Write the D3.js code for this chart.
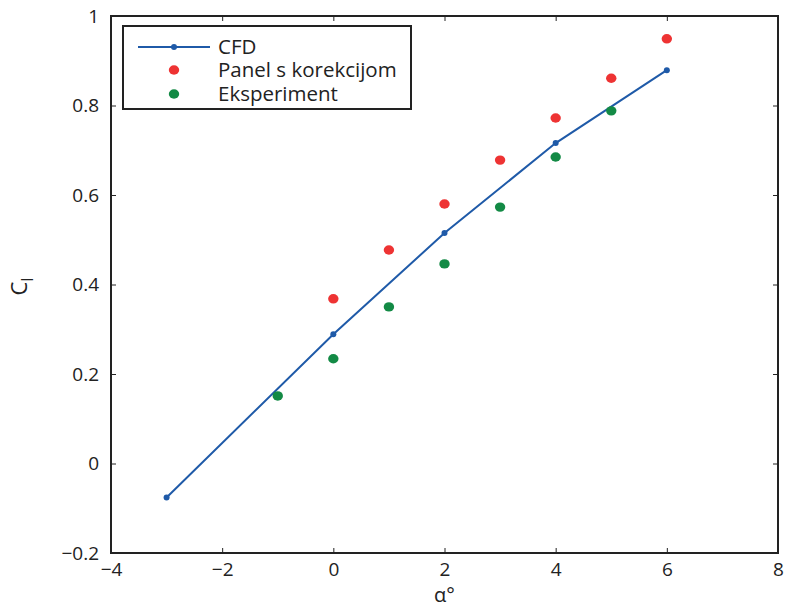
<!DOCTYPE html>
<html lang="hr">
<head>
  <meta charset="UTF-8">
  <title>Cl</title>
  <style>
    body { margin: 0; background: #fff; }
    text { font-family: "Open Sans", "Liberation Sans", sans-serif; fill: #222; }
  </style>
</head>
<body>
  <svg width="785" height="607"></svg>
  <script src="https://cdn.jsdelivr.net/npm/d3@7/dist/d3.min.js"></script>
  <script>
    // data
    var cfdAlpha = [-3, 0, 2, 4, 6]
    var cfdCl = [-0.076, 0.289, 0.515, 0.716, 0.879]
    var panelAlpha = [0, 1, 2, 3, 4, 5, 6]
    var panelCl = [0.368, 0.477, 0.580, 0.678, 0.772, 0.861, 0.949]
    var expAlpha = [-1, 0, 1, 2, 3, 4, 5]
    var expCl = [0.151, 0.234, 0.350, 0.446, 0.573, 0.685, 0.788]
    var xTicks = [-4, -2, 0, 2, 4, 6, 8]
    var yTicks = [-0.2, 0, 0.2, 0.4, 0.6, 0.8, 1]
    var legendLabels = ['CFD', 'Panel s korekcijom', 'Eksperiment']

    var svg = d3.select('svg')
    var pl = 111, pt = 16, pr = 778, pb = 553

    var x = d3.scaleLinear().domain([-4, 8]).range([pl, pr])
    var y = d3.scaleLinear().domain([-0.2, 1]).range([pb, pt])

    var fmt = function(d) {
      return d3.format('')(d).replace('-', '\u2212')
    }

    // axes, ticks inward on all four sides
    svg.append('g')
      .attr('transform', 'translate(0,' + pb + ')')
      .call(d3.axisBottom(x).tickValues(xTicks).tickSizeInner(-5).tickSizeOuter(0).tickPadding(10).tickFormat(fmt))
    svg.append('g')
      .attr('transform', 'translate(0,' + pt + ')')
      .call(d3.axisTop(x).tickValues(xTicks).tickSizeInner(-5).tickSizeOuter(0).tickFormat(''))
    svg.append('g')
      .attr('transform', 'translate(' + pl + ',0)')
      .call(d3.axisLeft(y).tickValues(yTicks).tickSizeInner(-5).tickSizeOuter(0).tickPadding(12).tickFormat(fmt))
    svg.append('g')
      .attr('transform', 'translate(' + pr + ',0)')
      .call(d3.axisRight(y).tickValues(yTicks).tickSizeInner(-5).tickSizeOuter(0).tickFormat(''))

    svg.selectAll('.domain').remove()
    svg.selectAll('.tick line').attr('stroke', '#222')
    svg.selectAll('.tick text').attr('font-size', '19px').attr('fill', '#222')

    svg.append('rect')
      .attr('x', pl).attr('y', pt)
      .attr('width', pr - pl).attr('height', pb - pt)
      .attr('fill', 'none').attr('stroke', '#222').attr('stroke-width', 2)

    // axis titles
    svg.append('text')
      .attr('x', (pl + pr) / 2).attr('y', 602)
      .attr('text-anchor', 'middle')
      .attr('font-size', '20px')
      .text('\u03b1\u00b0')

    var yl = svg.append('text')
      .attr('transform', 'translate(27,' + ((pt + pb) / 2 + 2) + ') rotate(-90)')
      .attr('text-anchor', 'middle')
      .attr('font-size', '22px')
    yl.append('tspan').text('C')
    yl.append('tspan').attr('dy', 6).attr('font-size', '17px').text('l')

    // CFD line
    var cfd = cfdAlpha.map(function(a, i) { return [a, cfdCl[i]] })
    svg.append('path')
      .datum(cfd)
      .attr('fill', 'none')
      .attr('stroke', '#1f5aa8')
      .attr('stroke-width', 2)
      .attr('d', d3.line().x(function(d) { return x(d[0]) }).y(function(d) { return y(d[1]) }))
    svg.selectAll('.cfd')
      .data(cfd)
      .enter()
      .append('circle')
      .attr('class', 'cfd')
      .attr('cx', function(d) { return x(d[0]) })
      .attr('cy', function(d) { return y(d[1]) })
      .attr('r', 3)
      .attr('fill', '#1f5aa8')

    svg.selectAll('.panel')
      .data(panelAlpha)
      .enter()
      .append('ellipse')
      .attr('class', 'panel')
      .attr('cx', function(d) { return x(d) })
      .attr('cy', function(d, i) { return y(panelCl[i]) })
      .attr('rx', 5.2).attr('ry', 4.7)
      .attr('fill', '#ee3333')

    svg.selectAll('.exp')
      .data(expAlpha)
      .enter()
      .append('ellipse')
      .attr('class', 'exp')
      .attr('cx', function(d) { return x(d) })
      .attr('cy', function(d, i) { return y(expCl[i]) })
      .attr('rx', 5.2).attr('ry', 4.7)
      .attr('fill', '#138a45')

    // legend
    var lg = svg.append('g')
    lg.append('rect')
      .attr('x', 123).attr('y', 26)
      .attr('width', 288).attr('height', 83)
      .attr('fill', '#fff').attr('stroke', '#222').attr('stroke-width', 2)
    var rowY = [47, 70, 94]
    lg.append('line')
      .attr('x1', 138).attr('x2', 210)
      .attr('y1', rowY[0]).attr('y2', rowY[0])
      .attr('stroke', '#1f5aa8').attr('stroke-width', 2)
    lg.append('circle').attr('cx', 174).attr('cy', rowY[0]).attr('r', 3).attr('fill', '#1f5aa8')
    lg.append('ellipse').attr('cx', 174).attr('cy', rowY[1]).attr('rx', 5.2).attr('ry', 4.7).attr('fill', '#ee3333')
    lg.append('ellipse').attr('cx', 174).attr('cy', rowY[2]).attr('rx', 5.2).attr('ry', 4.7).attr('fill', '#138a45')
    lg.selectAll('.lt')
      .data(legendLabels)
      .enter()
      .append('text')
      .attr('class', 'lt')
      .attr('x', 218)
      .attr('y', function(d, i) { return rowY[i] + 7 })
      .attr('font-size', '20.5px')
      .text(function(d) { return d })
  </script>
</body>
</html>
